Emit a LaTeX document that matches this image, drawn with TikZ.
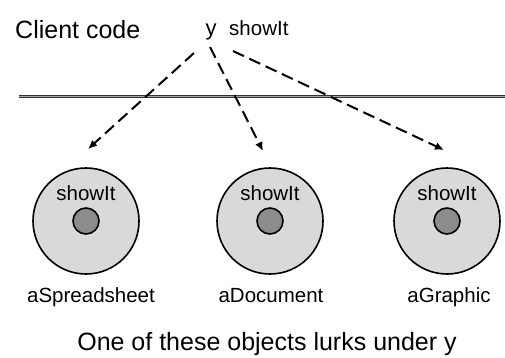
\documentclass[tikz,border=0pt]{standalone}
\usepackage{fontspec}
\setmainfont{Liberation Sans}
\usetikzlibrary{arrows.meta}
\begin{document}
\begin{tikzpicture}[x=1pt,y=-1pt,
  bigtext/.style={font=\fontsize{25}{28}\selectfont, inner sep=0pt, anchor=base},
  midtext/.style={font=\fontsize{20.5}{24}\selectfont, inner sep=0pt, anchor=base},
  objouter/.style={circle, draw=black, line width=1.6pt, fill=black!15, minimum size=106pt, inner sep=0pt},
  objinner/.style={circle, draw=black, line width=1.6pt, fill=black!45, minimum size=26pt, inner sep=0pt},
  dasharrow/.style={line width=2pt, dash pattern=on 12pt off 6pt, -{Latex[length=9pt,width=8pt]}},
  barrier/.style={double=black!35, draw=black!80, line width=1pt, double distance=1.2pt}]
\useasboundingbox (0,0) rectangle (505,357);
% top labels
\node[bigtext, anchor=base west] (client) at (15,38) {Client code};
\node[font=\fontsize{22}{26}\selectfont, inner sep=0pt, anchor=base] (y) at (211,35) {y};
\node[midtext, anchor=base west] (show) at (229,35) {showIt};
% barrier line
\coordinate (bl) at (19,96.5);
\coordinate (br) at (505,96.5);
\draw[barrier] (bl) -- (br);
% objects
\node[objouter] (o1) at (86,221) {};
\node[objouter] (o2) at (270,221) {};
\node[objouter] (o3) at (447,221) {};
\foreach \o in {o1,o2,o3}{
  \node[objinner] (\o in) at (\o) {};
  \node[midtext] (\o s) at ([yshift=21pt]\o.center) {showIt};
}
% arrows
\coordinate (t1) at (88,149);
\coordinate (t2) at (263,151);
\coordinate (t3) at (444,150);
\coordinate (s1) at (194,53);
\coordinate (s2) at (210,47);
\coordinate (s3) at (233,51);
\draw[dasharrow] (s1) -- (t1);
\draw[dasharrow] (s2) -- (t2);
\draw[dasharrow] (s3) -- (t3);
% labels
\node[midtext] (l1) at (91,302) {aSpreadsheet};
\node[midtext] (l2) at (271,302) {aDocument};
\node[midtext] (l3) at (449,302) {aGraphic};
\node[bigtext] (cap) at (267,350) {One of these objects lurks under y};
\end{tikzpicture}
\end{document}
